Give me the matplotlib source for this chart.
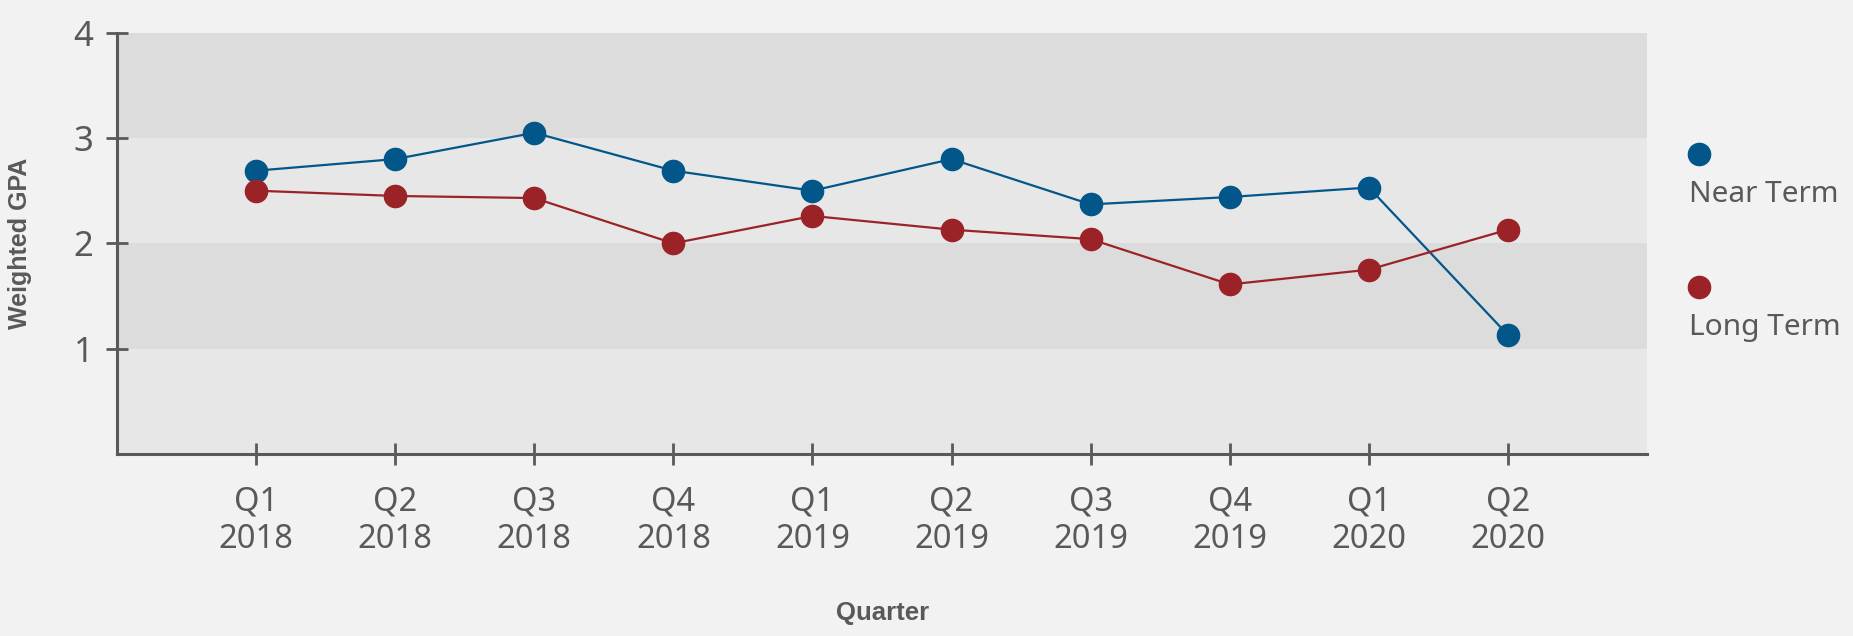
import matplotlib
matplotlib.use("Agg")
import matplotlib.pyplot as plt
from matplotlib.lines import Line2D

quarters = ["Q1\n2018", "Q2\n2018", "Q3\n2018", "Q4\n2018", "Q1\n2019",
            "Q2\n2019", "Q3\n2019", "Q4\n2019", "Q1\n2020", "Q2\n2020"]
near_term = [2.69, 2.80, 3.05, 2.69, 2.50, 2.80, 2.37, 2.44, 2.53, 1.13]
long_term = [2.50, 2.45, 2.43, 2.00, 2.26, 2.13, 2.04, 1.61, 1.75, 2.13]
series_names = ["Near Term", "Long Term"]
yticks = [1, 2, 3, 4]

BG = "#f1f2f1"
LIGHT = "#e7e7e7"
DARK = "#dcdcdc"
BLUE = "#02568a"
RED = "#9b2328"
GREY = "#58595b"

plt.rcParams['font.family'] = ['Noto Sans', 'DejaVu Sans']

fig = plt.figure(figsize=(18.53, 6.36), dpi=100, facecolor=BG)
ax = fig.add_axes([117/1853, 1 - 454/636, (1647-117)/1853, (454-32.7)/636])
ax.set_facecolor(LIGHT)
ax.axhspan(1, 2, color=DARK, lw=0, zorder=0)
ax.axhspan(3, 4, color=DARK, lw=0, zorder=0)

x = list(range(len(quarters)))
ax.plot(x, near_term, color=BLUE, lw=1.6, marker='o', ms=16, zorder=3)
ax.plot(x, long_term, color=RED, lw=1.6, marker='o', ms=16, zorder=3)

ax.set_xlim(-1, 10)
ax.set_ylim(0, 4)
ax.set_xticks(x)
ax.set_xticklabels(quarters, linespacing=1.18)
ax.set_yticks(yticks)
for s in ['top', 'right']:
    ax.spines[s].set_visible(False)
for s in ['left', 'bottom']:
    ax.spines[s].set_color(GREY)
    ax.spines[s].set_linewidth(2.2)
ax.tick_params(axis='both', direction='inout', length=16, width=2, color=GREY,
               labelcolor=GREY)
ax.tick_params(axis='x', pad=15, labelsize=23.5)
ax.tick_params(axis='y', pad=9, labelsize=25)

fig.text(20/1853, 1 - 243/636, "Weighted GPA", rotation=90, ha='center', va='center',
         fontsize=18, fontweight='bold', color=GREY, family=['Liberation Sans', 'DejaVu Sans'])
fig.text(883/1853, 1 - 613/636, "Quarter", ha='center', va='center',
         fontsize=18.5, fontweight='bold', color=GREY, family=['Liberation Sans', 'DejaVu Sans'])

# legend
for name, col, my, ty in [(series_names[0], BLUE, 154, 194), (series_names[1], RED, 287, 327)]:
    fig.add_artist(Line2D([1699/1853], [1 - my/636], marker='o', ms=16, color=col,
                          transform=fig.transFigure, lw=0))
    fig.text(1689/1853, 1 - ty/636, name, ha='left', va='center', fontsize=21.5, color=GREY)

fig.savefig("out.png", dpi=100, facecolor=BG)
